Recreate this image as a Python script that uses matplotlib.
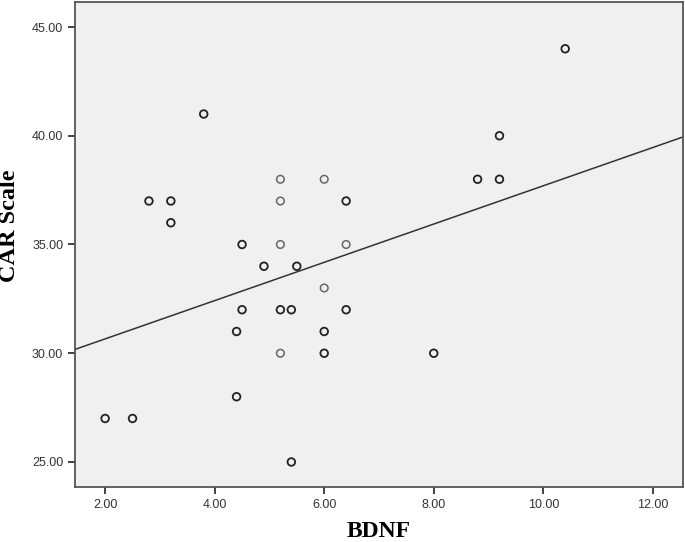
import numpy as np
import matplotlib
matplotlib.use("Agg")
import matplotlib.pyplot as plt

# BDNF vs CAR Scale
bdnf = [2.0, 2.5, 2.8, 3.2, 3.2, 3.8, 4.4, 4.4, 4.5, 4.5, 4.9,
        5.2, 5.2, 5.2, 5.2, 5.2, 5.4, 5.4, 5.5,
        6.0, 6.0, 6.0, 6.0, 6.4, 6.4, 6.4,
        8.0, 8.8, 9.2, 9.2, 10.4]
car = [27, 27, 37, 37, 36, 41, 31, 28, 35, 32, 34,
       38, 37, 35, 32, 30, 32, 25, 34,
       38, 33, 31, 30, 37, 35, 32,
       30, 38, 40, 38, 44]
# points drawn lighter in the original (single, not overplotted)
faint = [11, 12, 13, 15, 19, 20, 24]

# fit line as shown (intercept, slope)
fit_b0 = 28.90
fit_b1 = 0.880

x_ticks = [2, 4, 6, 8, 10, 12]
y_ticks = [25, 30, 35, 40, 45]

fig = plt.figure(figsize=(6.85, 5.42), dpi=100)
ax = fig.add_axes([0.1095, 0.1015, 0.8875, 0.8948])
ax.set_facecolor("#f0f0f0")

x = np.array(bdnf)
y = np.array(car)
light = np.zeros(len(x), dtype=bool)
light[faint] = True

ax.scatter(x[~light], y[~light], s=30, facecolors="none",
           edgecolors="#222222", linewidths=1.3, zorder=3)
ax.scatter(x[light], y[light], s=30, facecolors="none",
           edgecolors="#666666", linewidths=1.1, zorder=3)

xlim = (1.45, 12.55)
xs = np.array(xlim)
ax.plot(xs, fit_b0 + fit_b1 * xs, color="#333333", lw=1.1, zorder=2)

ax.set_xlim(*xlim)
ax.set_ylim(23.85, 46.15)
ax.set_xticks(x_ticks)
ax.set_yticks(y_ticks)
ax.set_xticklabels([f"{v:.2f}" for v in x_ticks])
ax.set_yticklabels([f"{v:.2f}" for v in y_ticks])

for s in ax.spines.values():
    s.set_color("#555555")
    s.set_linewidth(1.3)
ax.tick_params(direction="out", length=5, width=1.3, color="#333333",
               labelsize=9, labelcolor="#333333")
for lab in ax.get_xticklabels() + ax.get_yticklabels():
    lab.set_family("Liberation Sans")

ax.set_xlabel("BDNF", fontsize=17, fontweight="bold",
              family="Liberation Serif", labelpad=7)
ax.set_ylabel("CAR Scale", fontsize=17.5, fontweight="bold",
              family="Liberation Serif", va="center")
ax.yaxis.set_label_coords(-0.107, 0.538)

fig.savefig("out.png", dpi=100)
